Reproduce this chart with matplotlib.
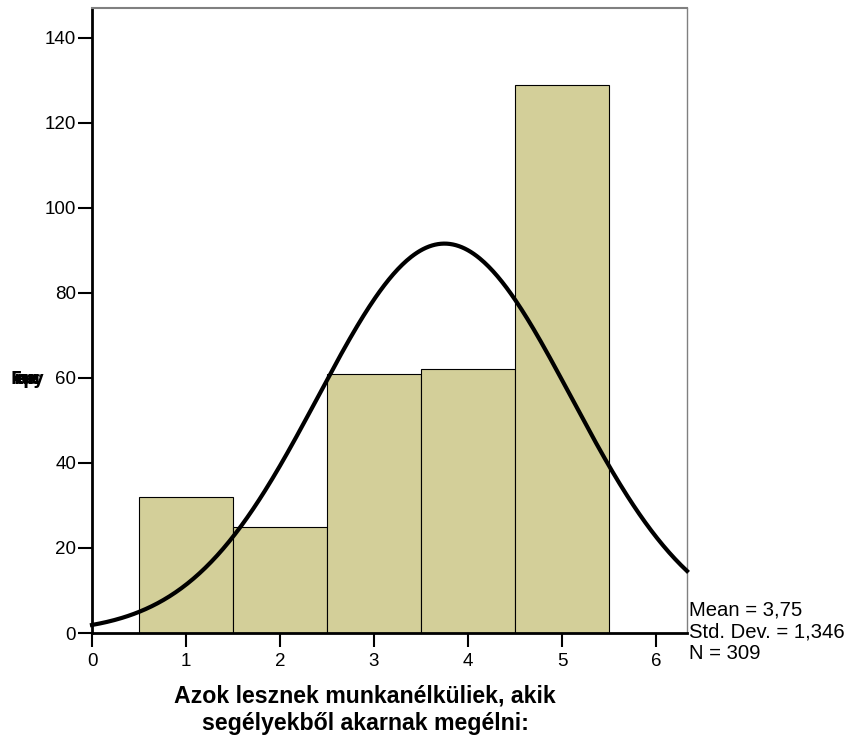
import numpy as np
import matplotlib
matplotlib.use("Agg")
import matplotlib.pyplot as plt

plt.rcParams['font.family'] = ['Liberation Sans', 'DejaVu Sans']

categories = [1, 2, 3, 4, 5]
counts = [32, 25, 61, 62, 129]
mean_val = 3.75
std_val = 1.346
n_val = 309
xticks = [0, 1, 2, 3, 4, 5, 6]
yticks = [0, 20, 40, 60, 80, 100, 120, 140]
xlabel = "Azok lesznek munkanélküliek, akik\nsegélyekből akarnak megélni:"
ylabel = "Frequency"

fig = plt.figure(figsize=(8.46, 7.47), dpi=100)
ax = fig.add_axes([92/846, 1-633/747, (687-92)/846, (633-8)/747])

ax.bar(categories, counts, width=1.0, color='#d3cf99', edgecolor='black', linewidth=0.8, zorder=2)

xmax = 6.33
xs = np.linspace(0, xmax, 400)
ys = n_val * 1.0 / (std_val * np.sqrt(2*np.pi)) * np.exp(-0.5*((xs-mean_val)/std_val)**2)
ax.plot(xs, ys, color='black', linewidth=3, zorder=3, clip_on=False)

ax.set_xlim(0, xmax)
ax.set_ylim(0, 147)
ax.set_xticks(xticks)
ax.set_yticks(yticks)
ax.tick_params(labelsize=13.5, length=10, width=1.5, direction='out')
ax.tick_params(axis='x', pad=4.5)
ax.tick_params(axis='y', pad=1.5)
ax.spines['left'].set_linewidth(2)
ax.spines['bottom'].set_linewidth(2)
ax.spines['top'].set_color('#808080')
ax.spines['right'].set_color('#808080')
ax.spines['top'].set_linewidth(1.5)
ax.spines['right'].set_linewidth(1)

fig.text(365/846, 1-684/747, xlabel, fontsize=16.7, fontweight='bold',
         va='top', ha='center', linespacing=1.28)

# garbled y label (overlapping glyphs, as in the reference)
squeezed = (r"\!\!\!").join(ylabel)
fig.text(10/846, 1-380/747, r"$\mathbf{" + squeezed + "}$", fontsize=12,
         va='center', ha='left')

fig.text(689/846, 1-601/747, f"Mean = 3,75\nStd. Dev. = 1,346\nN = {n_val}",
         fontsize=14.6, va='top', ha='left', linespacing=1.17)

fig.savefig("out.png", dpi=100)
